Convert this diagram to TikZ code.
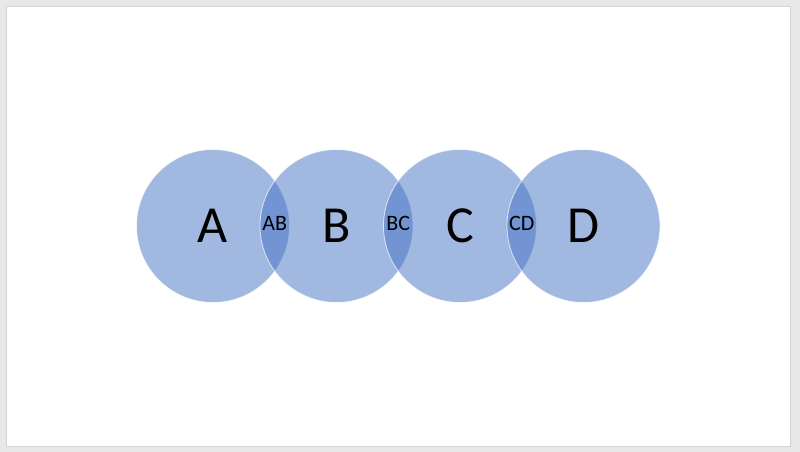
\documentclass[tikz,border=0pt]{standalone}
\usepackage{fontspec}
\setmainfont{Carlito}
\usetikzlibrary{positioning,calc}
\definecolor{setblue}{HTML}{4472C4}
\definecolor{slidegray}{HTML}{E8E8E8}
\definecolor{slideedge}{HTML}{D2D2D2}

\begin{document}
\begin{tikzpicture}[x=1pt, y=-1pt,
    setcircle/.style={circle, minimum size=153pt, inner sep=0pt, fill=setblue, fill opacity=0.5, draw=white, draw opacity=0.7, line width=0.8pt},
    setlabel/.style={font=\fontsize{52}{52}\selectfont, text=black},
    overlaplabel/.style={font=\fontsize{22}{22}\selectfont, text=black}]
    % slide background
    \useasboundingbox (0,0) rectangle (800,452);
    \fill[slidegray] (0,0) rectangle (800,452);
    \filldraw[fill=white, draw=slideedge, line width=0.8pt] (6,6) rectangle (790,446);
    % the four sets
    \node[setcircle] (A) at (213,226) {};
    \node[setcircle] (B) at (336.5,226) {};
    \node[setcircle] (C) at (460,226) {};
    \node[setcircle] (D) at (583.5,226) {};
    \node[setlabel] (LA) at (A) {A};
    \node[setlabel] (LB) at (B) {B};
    \node[setlabel] (LC) at (C) {C};
    \node[setlabel] (LD) at (D) {D};
    % overlaps
    \node[overlaplabel] (AB) at ($(A)!0.5!(B)+(0,-3)$) {AB};
    \node[overlaplabel] (BC) at ($(B)!0.5!(C)+(0,-3)$) {BC};
    \node[overlaplabel] (CD) at ($(C)!0.5!(D)+(0,-3)$) {CD};
\end{tikzpicture}
\end{document}
